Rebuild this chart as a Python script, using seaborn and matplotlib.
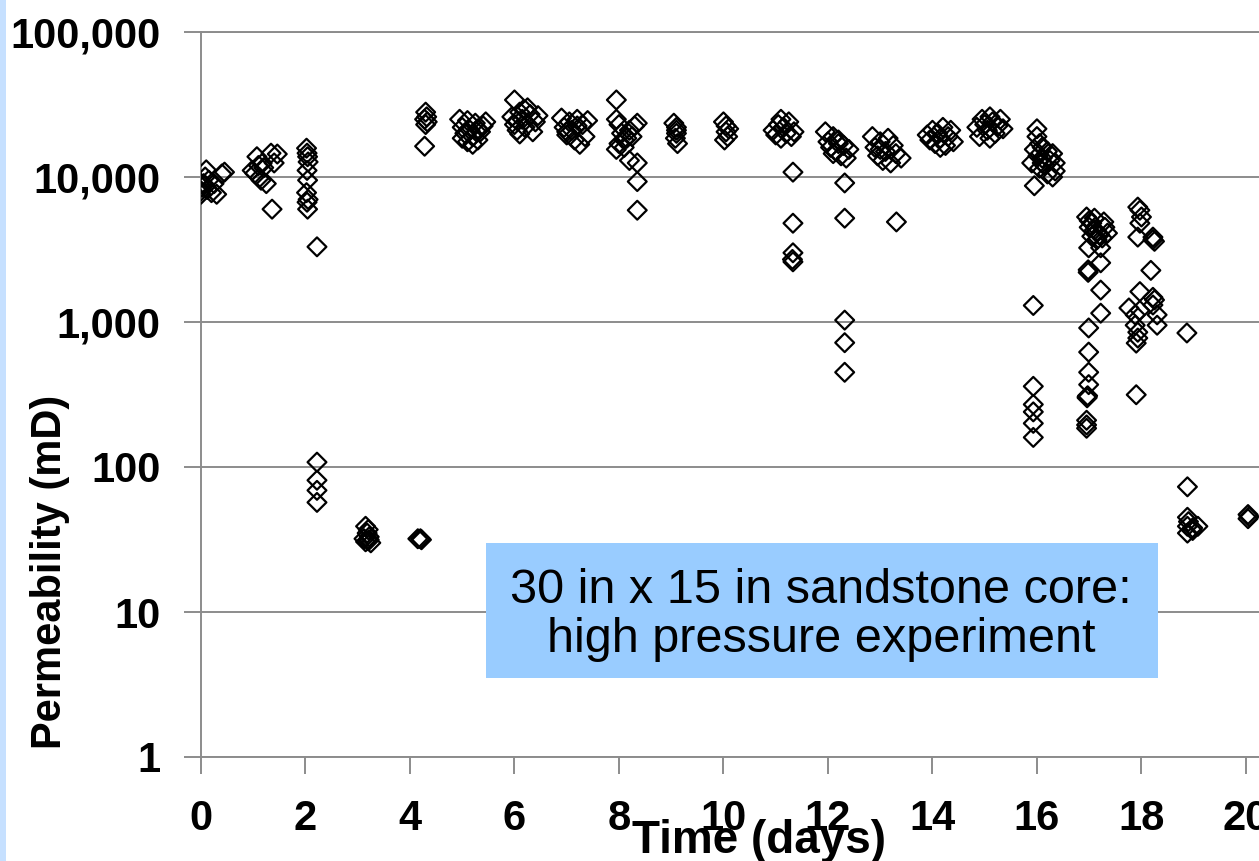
import matplotlib
matplotlib.use("Agg")
import matplotlib.pyplot as plt
import matplotlib.ticker as mticker
from matplotlib.patches import Rectangle
import seaborn as sns
import pandas as pd

# ---- data ----
time_days = [
    # day 0
    0.0, 0.0, 0.02, 0.05, 0.08, 0.10, 0.12, 0.15, 0.20, 0.25, 0.30, 0.40, 0.45,
    # day 1
    0.98, 1.03, 1.07, 1.10, 1.12, 1.15, 1.17, 1.20, 1.25, 1.34, 1.36, 1.40, 1.46,
    # day 2
    2.02, 2.03, 2.04, 2.05, 2.03, 2.04, 2.02, 2.05, 2.03, 2.04, 2.22,
    2.22, 2.22, 2.22, 2.22,
    # day 3
    3.15, 3.20, 3.18, 3.22, 3.12, 3.20, 3.25, 3.15, 3.22,
    # day 4
    4.15, 4.20, 4.22,
    4.30, 4.32, 4.28, 4.33, 4.30, 4.28,
    # day 5
    4.95, 5.00, 5.05, 5.00, 5.10, 5.15, 5.20, 5.25, 5.30, 5.35, 5.40, 5.45, 5.20, 5.10, 5.30,
    # day 6
    6.00, 5.95, 6.00, 6.05, 6.10, 6.15, 6.20, 6.25, 6.30, 6.35, 6.40, 6.45, 6.10, 6.20, 6.05,
    # day 7
    6.90, 6.95, 7.00, 7.05, 7.10, 7.15, 7.20, 7.25, 7.30, 7.35, 7.40, 7.00, 7.20,
    # day 8
    7.95, 7.95, 8.00, 8.05, 8.00, 8.10, 7.95, 8.15, 8.20, 8.25, 8.30, 8.35, 8.20, 8.35, 8.35, 8.35, 8.10,
    # day 9
    9.05, 9.10, 9.10, 9.08, 9.12, 9.10,
    # day 10
    10.00, 10.05, 10.05, 10.08, 10.02, 10.10,
    # day 11
    10.95, 11.00, 11.05, 11.10, 11.15, 11.20, 11.25, 11.30, 11.35, 11.10,
    11.33, 11.33, 11.33, 11.33, 11.32,
    # day 12
    11.95, 12.00, 12.05, 12.10, 12.15, 12.20, 12.25, 12.30, 12.35, 12.40, 12.10, 12.20,
    12.32, 12.32, 12.32, 12.32, 12.32,
    # day 13
    12.85, 12.90, 12.95, 13.00, 13.05, 13.10, 13.15, 13.20, 13.25, 13.30, 13.40, 13.00, 13.31,
    # day 14
    13.90, 13.95, 14.00, 14.05, 14.10, 14.15, 14.20, 14.25, 14.30, 14.35, 14.40, 14.15,
    # day 15
    14.85, 14.90, 14.95, 15.00, 15.05, 15.10, 15.15, 15.20, 15.25, 15.30, 15.35, 15.10,
    # day 16
    15.90, 15.95, 15.95, 16.00, 16.00, 16.02, 16.05, 16.05, 16.10, 16.10, 16.15, 16.20, 16.20,
    16.25, 16.30, 16.35, 16.35, 16.30, 16.10,
    15.93, 15.93, 15.93, 15.93, 15.93, 15.93,
    # day 17
    16.95, 17.00, 17.05, 17.00, 17.10, 17.15, 17.20, 17.05, 17.25, 17.30, 17.35, 17.15, 17.10, 17.28,
    16.99, 17.22, 17.22, 16.98, 16.98, 17.22, 17.22, 16.99, 16.99, 16.99, 16.99, 16.97, 16.96, 16.96,
    16.95, 16.95, 16.95,
    # day 18
    17.93, 17.97, 18.00, 17.97, 17.93, 18.22, 18.22, 18.25, 18.18, 17.97, 18.22, 18.25, 18.22,
    17.76, 17.97, 17.88, 18.30, 18.30, 17.88, 17.93, 17.93, 17.90, 18.87, 17.90,
    # day 19
    18.88, 18.88, 18.90, 18.88, 18.98, 19.08, 18.98, 18.88,
    # day 20
    20.04, 20.04, 20.06,
]

permeability_md = [
    # day 0
    8000, 7600, 8500, 9000, 10000, 11200, 8200, 9500, 7800, 9000, 7600, 10500, 10800,
    # day 1
    11100, 10600, 13800, 12000, 9900, 9500, 12400, 11600, 9000, 14600, 6000, 12500, 14400,
    # day 2
    15800, 14600, 13800, 12700, 11100, 9500, 7800, 7000, 6700, 6000, 3300,
    108, 81, 69, 57,
    # day 3
    39, 37, 35, 33, 32, 31, 30, 30.5, 31.5,
    # day 4
    32, 32, 31.5,
    28000, 26000, 25000, 24000, 23000, 16300,
    # day 5
    25000, 22000, 20000, 18500, 17500, 21000, 19000, 23500, 18000, 20500, 22500, 24000, 16800, 24500, 21500,
    # day 6
    34000, 26000, 23000, 21000, 28000, 25000, 22000, 30000, 27000, 20500, 24000, 26500, 19800, 29000, 24500,
    # day 7
    25500, 22000, 19500, 24000, 21000, 18000, 25000, 16800, 23000, 19000, 24500, 20500, 22500,
    # day 8
    34000, 25000, 23000, 20000, 17000, 16000, 15500, 18500, 21000, 19000, 22500, 23500, 13000, 12500, 9300, 5900, 18000,
    # day 9
    23500, 22000, 20000, 18500, 17000, 21000,
    # day 10
    24000, 22500, 20500, 19000, 18000, 21500,
    # day 11
    21000, 19500, 23000, 25000, 22000, 20000, 24000, 19000, 20500, 18500,
    10800, 4800, 3000, 2600, 2700,
    # day 12
    20500, 17500, 16000, 19000, 15000, 18000, 14000, 16500, 13500, 15500, 14500, 17000,
    9100, 5200, 1030, 720, 450,
    # day 13
    19000, 16000, 14000, 17500, 13000, 15000, 18500, 12500, 16500, 14500, 13500, 15500, 4900,
    # day 14
    19500, 18000, 21000, 17000, 20000, 18500, 22000, 16500, 19000, 21000, 17500, 16000,
    # day 15
    22000, 19000, 25000, 23000, 21000, 26000, 24000, 20000, 22500, 25000, 21500, 18500,
    # day 16
    12500, 15500, 8700, 21500, 19000, 14000, 17000, 11500, 13500, 16000, 12000, 15000, 10500,
    13000, 14500, 12500, 11000, 10000, 12500,
    1300, 360, 270, 240, 200, 160,
    # day 17
    5300, 5000, 4800, 4500, 4300, 4200, 4000, 3900, 3800, 4500, 4100, 3700, 5200, 4900,
    3250, 3250, 2560, 2290, 2200, 1660, 1150, 910, 620, 450, 370, 310, 305, 300,
    210, 195, 185,
    # day 18
    6200, 5900, 5300, 4800, 3850, 3850, 3700, 3600, 2270, 1620, 1480, 1420, 1310,
    1250, 1200, 1120, 1120, 950, 950, 850, 775, 715, 840, 315,
    # day 19
    73, 45, 42, 39, 38, 39, 36.5, 35,
    # day 20
    47, 44, 45.5,
]

y_ticks = [1, 10, 100, 1000, 10000, 100000]
x_ticks = [0, 2, 4, 6, 8, 10, 12, 14, 16, 18, 20]
annotation = "30 in x 15 in sandstone core:\nhigh pressure experiment"

df = pd.DataFrame({"Time (days)": time_days, "Permeability (mD)": permeability_md})

# ---- styling ----
sns.set_style("white")
plt.rcParams["font.family"] = ["Liberation Sans", "DejaVu Sans"]
plt.rcParams["text.color"] = "black"
plt.rcParams["xtick.labelcolor"] = "black"
plt.rcParams["ytick.labelcolor"] = "black"

W, H = 1259, 861
fig = plt.figure(figsize=(W / 100, H / 100), dpi=100)
fig.patch.set_facecolor("white")

ax_left, ax_right, ax_top, ax_bottom = 201, 1259, 32, 757
ax = fig.add_axes([ax_left / W, 1 - ax_bottom / H,
                   (ax_right - ax_left) / W, (ax_bottom - ax_top) / H])
ax.set_facecolor("white")

grid_col = "#8c8c8c"

sns.scatterplot(data=df, x="Time (days)", y="Permeability (mD)", ax=ax,
                marker="D", s=92, facecolors="none", edgecolor="black",
                linewidth=1.6, zorder=3, legend=False)

ax.set_yscale("log")
ax.set_ylim(1, 100000)
ax.set_xlim(0, 20.25)
ax.set_yticks(y_ticks)
ax.yaxis.set_major_formatter(mticker.FuncFormatter(lambda v, _: f"{v:,.0f}"))
ax.yaxis.set_minor_locator(mticker.NullLocator())
ax.set_xticks(x_ticks)

ax.grid(axis="y", which="major", color=grid_col, linewidth=1.4, zorder=0)
ax.grid(axis="x", visible=False)

for side in ["left", "bottom", "top"]:
    ax.spines[side].set_visible(True)
    ax.spines[side].set_color(grid_col)
    ax.spines[side].set_linewidth(1.4)
ax.spines["right"].set_visible(False)

ax.tick_params(axis="both", which="major", direction="out", length=12,
               width=1.4, color=grid_col, labelsize=30, labelcolor="black")
ax.tick_params(axis="y", pad=17, left=True)
ax.tick_params(axis="x", pad=18, bottom=True)
for lbl in ax.get_xticklabels() + ax.get_yticklabels():
    lbl.set_fontweight("bold")

ax.set_xlabel("")
ax.set_ylabel("")
fig.text(759 / W, 1 - 853 / H, "Time (days)", ha="center", va="baseline",
         fontsize=33, fontweight="bold", color="black")
fig.text(50 / W, 1 - 572 / H, "Permeability (mD)", ha="center", va="center",
         rotation=90, fontsize=30, fontweight="bold", color="black")

# annotation box
fig.add_artist(Rectangle((486 / W, 1 - 678 / H), (1158 - 486) / W, (678 - 543) / H,
                         transform=fig.transFigure, facecolor="#99ccff",
                         edgecolor="none", zorder=5))
fig.text(821 / W, 1 - 615 / H, annotation, ha="center", va="center",
         multialignment="center", fontsize=35, linespacing=1.12,
         color="black", zorder=6)

# thin light-blue strip on the left edge
fig.add_artist(Rectangle((0, 0), 6 / W, 1, transform=fig.transFigure,
                         facecolor="#c6e0ff", edgecolor="none", zorder=0))

fig.savefig("out.png", dpi=100)
